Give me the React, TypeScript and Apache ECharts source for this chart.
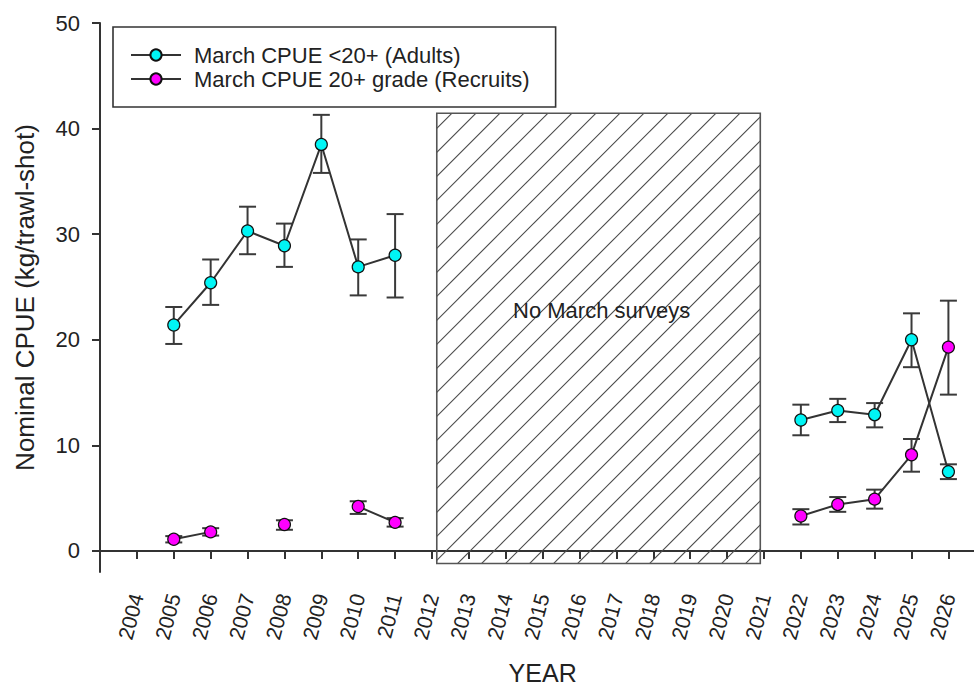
import React, { useEffect, useRef } from "react";
import * as echarts from "echarts";

// ---- data ----
const years = [2005, 2006, 2007, 2008, 2009, 2010, 2011, 2022, 2023, 2024, 2025, 2026];
const adults = [21.4, 25.4, 30.3, 28.9, 38.5, 26.9, 28.0, 12.4, 13.3, 12.9, 20.0, 7.5];
const adultsLow = [19.6, 23.3, 28.1, 26.9, 35.8, 24.2, 24.0, 10.95, 12.2, 11.7, 17.4, 6.8];
const adultsHigh = [23.1, 27.6, 32.6, 31.0, 41.3, 29.5, 31.9, 13.85, 14.4, 14.0, 22.5, 8.2];
const recruits = [1.1, 1.8, null, 2.5, null, 4.2, 2.7, 3.3, 4.4, 4.9, 9.1, 19.3];
const recruitsLow = [0.8, 1.45, null, 2.0, null, 3.5, 2.3, 2.5, 3.7, 4.0, 7.5, 14.8];
const recruitsHigh = [1.4, 2.15, null, 2.9, null, 4.7, 3.1, 3.95, 5.1, 5.8, 10.6, 23.7];

const xTicks = [2004, 2005, 2006, 2007, 2008, 2009, 2010, 2011, 2012, 2013, 2014, 2015,
  2016, 2017, 2018, 2019, 2020, 2021, 2022, 2023, 2024, 2025, 2026];
const yTicks = [0, 10, 20, 30, 40, 50];

const gapYears = [2012.13, 2020.9];
const gapValues = [-1.2, 41.45];
const noteText = "No March surveys";
const notePos = [2016.6, 22.8];

const seriesNames = ["March CPUE <20+ (Adults)", "March CPUE 20+ grade (Recruits)"];
const FONT = "Liberation Sans, Arial, Helvetica, sans-serif";

function lineData(vals: (number | null)[]) {
  const out: any[] = [];
  for (let i = 0; i < years.length; i++) {
    if (i > 0 && years[i] - years[i - 1] > 1) out.push([years[i - 1] + 1, "-"]);
    out.push([years[i], vals[i] == null ? "-" : vals[i]]);
  }
  return out;
}

function errData(lo: (number | null)[], hi: (number | null)[]) {
  const out: any[] = [];
  for (let i = 0; i < years.length; i++) {
    if (lo[i] != null && hi[i] != null) out.push([years[i], lo[i], hi[i]]);
  }
  return out;
}

const errStyle = { stroke: "#3a3a3a", lineWidth: 2 };

function renderErr(params: any, api: any) {
  const x = api.value(0);
  const pLo = api.coord([x, api.value(1)]);
  const pHi = api.coord([x, api.value(2)]);
  const hw = 8.5;
  return {
    type: "group",
    children: [
      { type: "line", shape: { x1: pHi[0], y1: pHi[1], x2: pLo[0], y2: pLo[1] }, style: errStyle },
      { type: "line", shape: { x1: pHi[0] - hw, y1: pHi[1], x2: pHi[0] + hw, y2: pHi[1] }, style: errStyle },
      { type: "line", shape: { x1: pLo[0] - hw, y1: pLo[1], x2: pLo[0] + hw, y2: pLo[1] }, style: errStyle },
    ],
  };
}

function renderGap(params: any, api: any) {
  const p0 = api.coord([api.value(0), api.value(3)]);
  const p1 = api.coord([api.value(1), api.value(2)]);
  const x0 = p0[0], y0 = p0[1], x1 = p1[0], y1 = p1[1];
  const children: any[] = [];
  const step = 24;
  for (let c = x0 + y0 + 15; c < x1 + y1; c += step) {
    const xa = Math.max(x0, c - y1);
    const xb = Math.min(x1, c - y0);
    if (xa < xb) {
      children.push({
        type: "line",
        shape: { x1: xa, y1: c - xa, x2: xb, y2: c - xb },
        style: { stroke: "#4a4a4a", lineWidth: 1.1 },
      });
    }
  }
  children.push({
    type: "rect",
    shape: { x: x0, y: y0, width: x1 - x0, height: y1 - y0 },
    style: { fill: "none", stroke: "#555", lineWidth: 1.6 },
  });
  const pt = api.coord([notePos[0], notePos[1]]);
  children.push({
    type: "text",
    x: pt[0],
    y: pt[1],
    style: {
      text: noteText,
      fill: "#222",
      font: `22px ${FONT}`,
      align: "center",
      verticalAlign: "middle",
    },
  });
  return { type: "group", children };
}

export default function App() {
  const ref = useRef<HTMLDivElement>(null);
  useEffect(() => {
    if (!ref.current) return;
    const chart = echarts.init(ref.current, undefined, { renderer: "svg" });
    chart.setOption({
      animation: false,
      backgroundColor: "#fff",
      textStyle: { fontFamily: FONT },
      grid: { left: 100, top: 23, width: 885.3, height: 549, containLabel: false, outerBoundsMode: "none" },
      legend: {
        orient: "vertical",
        left: 113,
        top: 27,
        data: seriesNames,
        borderColor: "#333",
        borderWidth: 1.6,
        padding: [16, 26, 16, 17],
        itemGap: 0,
        itemWidth: 50,
        itemHeight: 14,
        textStyle: { fontSize: 22, color: "#222", lineHeight: 24, padding: [0, 0, 0, 8], fontFamily: FONT },
      },
      xAxis: {
        type: "value",
        min: 2003,
        max: 2027,
        name: "YEAR",
        nameLocation: "middle",
        nameGap: 88,
        nameTextStyle: { fontSize: 25, color: "#222", fontFamily: FONT },
        axisLine: { show: true, lineStyle: { color: "#333", width: 2 } },
        axisTick: { show: true, customValues: xTicks, length: 8, lineStyle: { color: "#333", width: 2 } },
        axisLabel: {
          customValues: xTicks,
          rotate: 75,
          margin: 22,
          fontSize: 21,
          color: "#222",
          formatter: (v: number) => String(v),
        },
        splitLine: { show: false },
      },
      yAxis: {
        type: "value",
        min: -2,
        max: 50,
        name: "Nominal CPUE (kg/trawl-shot)",
        nameLocation: "middle",
        nameRotate: 90,
        nameGap: 62,
        nameTextStyle: { fontSize: 26, color: "#222", fontFamily: FONT },
        axisLine: { show: true, lineStyle: { color: "#333", width: 2 } },
        axisTick: { show: true, customValues: yTicks, length: 8, lineStyle: { color: "#333", width: 2 } },
        axisLabel: { customValues: yTicks, margin: 20, fontSize: 22, color: "#222" },
        splitLine: { show: false },
      },
      series: [
        {
          type: "custom",
          name: "gap",
          renderItem: renderGap,
          data: [[gapYears[0], gapYears[1], gapValues[0], gapValues[1]]],
          encode: { x: [0, 1], y: [2, 3] },
          silent: true,
          z: 1,
        },
        {
          type: "custom",
          name: "adultsErr",
          renderItem: renderErr,
          data: errData(adultsLow, adultsHigh),
          encode: { x: 0, y: [1, 2] },
          z: 2,
        },
        {
          type: "custom",
          name: "recruitsErr",
          renderItem: renderErr,
          data: errData(recruitsLow, recruitsHigh),
          encode: { x: 0, y: [1, 2] },
          z: 2,
        },
        {
          type: "line",
          name: seriesNames[0],
          data: lineData(adults),
          symbol: "circle",
          symbolSize: 12,
          showAllSymbol: true,
          lineStyle: { color: "#333", width: 2 },
          itemStyle: { color: "#00F5F5", borderColor: "#111", borderWidth: 1.2 },
          z: 3,
        },
        {
          type: "line",
          name: seriesNames[1],
          data: lineData(recruits),
          symbol: "circle",
          symbolSize: 12,
          showAllSymbol: true,
          lineStyle: { color: "#333", width: 2 },
          itemStyle: { color: "#FF00FF", borderColor: "#111", borderWidth: 1.2 },
          z: 3,
        },
      ],
    });
    return () => chart.dispose();
  }, []);
  return <div ref={ref} style={{ position: "absolute", left: 0, top: 0, width: 974, height: 687 }} />;
}
